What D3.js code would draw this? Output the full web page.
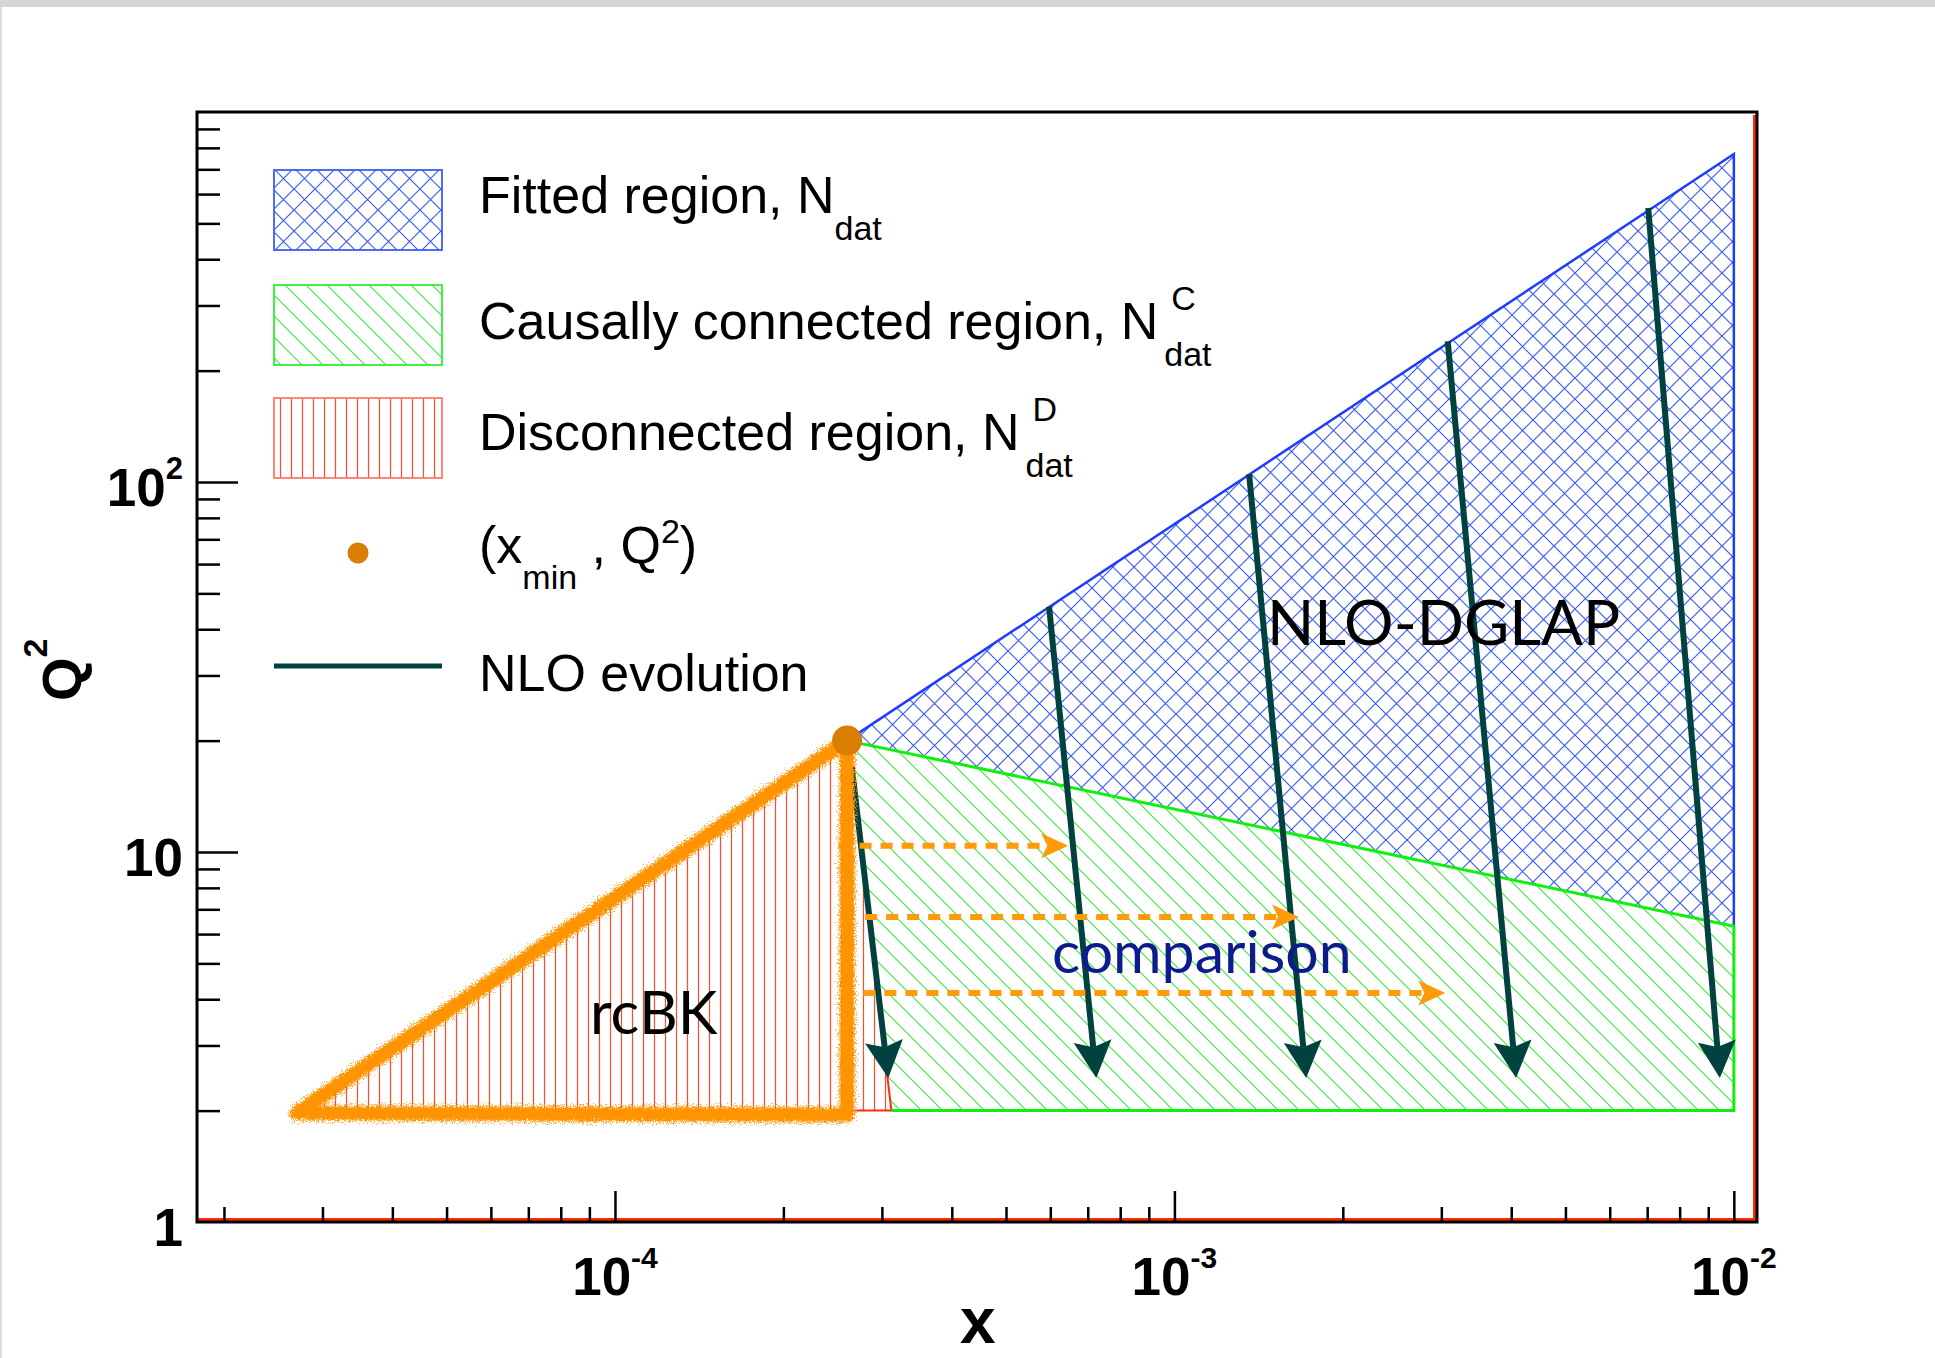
<!DOCTYPE html>
<html>
<head>
<meta charset="utf-8">
<script src="https://cdn.jsdelivr.net/npm/d3@7"></script>
<style>
    body { margin: 0; background: #fff; }
</style>
</head>
<body>
<div id="wrapper"></div>
<script>
// regions in the (x, Q^2) plane
const xMinPoint = [2.6e-4, 20]
const fittedX = [2.6e-4, 1e-2, 1e-2]
const fittedQ2 = [20, 770, 6.3]
const causalX = [2.6e-4, 1e-2, 1e-2, 3.12e-4]
const causalQ2 = [20, 6.3, 2, 2]
const discX = [2.7e-5, 2.6e-4, 3.12e-4]
const discQ2 = [2, 20, 2]
const rcbkX = [2.7e-5, 2.6e-4, 2.6e-4, 2.7e-5]
const rcbkQ2 = [1.97, 20, 1.95, 1.97]

// NLO evolution arrows
const nloStartX = [2.65e-4, 5.97e-4, 1.36e-3, 3.08e-3, 7.03e-3]
const nloStartQ2 = [17, 46, 105, 240, 550]
const nloEndX = [3.08e-4, 7.25e-4, 1.72e-3, 4.08e-3, 9.44e-3]
const nloEndQ2 = [2.45, 2.45, 2.45, 2.45, 2.45]

// dashed comparison arrows
const cmpStartX = [2.51e-4, 2.8e-4, 2.78e-4]
const cmpEndX = [6.46e-4, 1.67e-3, 3.05e-3]
const cmpQ2 = [10.4, 6.67, 4.16]

// axis labels
const xMajor = [1e-4, 1e-3, 1e-2]
const xMajorExp = ["-4", "-3", "-2"]
const yMajor = [1, 10, 100]
const yMajorBase = ["1", "10", "10"]
const yMajorExp = ["", "", "2"]

// legend
const legendMain = ["Fitted region, N", "Causally connected region, N", "Disconnected region, N"]
const legendSub = ["dat", "dat", "dat"]
const legendSup = ["", "C", "D"]

const dims = { width: 1935, height: 1358, left: 197, right: 1757, top: 112, bottom: 1222 }

const svg = d3.select("#wrapper").append("svg")
    .attr("width", dims.width)
    .attr("height", dims.height)
    .style("display", "block")

svg.append("rect").attr("width", dims.width).attr("height", dims.height).attr("fill", "#fff")
svg.append("rect").attr("width", dims.width).attr("height", 7).attr("fill", "#d5d5d5")
svg.append("rect").attr("y", 7).attr("width", 2).attr("height", dims.height).attr("fill", "#dcdcdc")

const x = d3.scaleLog().domain([1.79e-5, 0.011]).range([dims.left, dims.right])
const y = d3.scaleLog().domain([1, 1000]).range([dims.bottom, dims.top])

const defs = svg.append("defs")

const pBlue = defs.append("pattern").attr("id", "hBlue")
    .attr("patternUnits", "userSpaceOnUse").attr("width", 21).attr("height", 21)
pBlue.append("path").attr("d", "M-1,-1L22,22M22,-1L-1,22")
    .attr("stroke", "#3a5cff").attr("stroke-width", 1.2).attr("fill", "none")

const pGreen = defs.append("pattern").attr("id", "hGreen")
    .attr("patternUnits", "userSpaceOnUse").attr("width", 21).attr("height", 21)
pGreen.append("path").attr("d", "M-1,-1L22,22M-6,15L6,27M15,-6L27,6")
    .attr("stroke", "#44e444").attr("stroke-width", 1.2).attr("fill", "none")

const pRed = defs.append("pattern").attr("id", "hRed")
    .attr("patternUnits", "userSpaceOnUse").attr("width", 11).attr("height", 10)
pRed.append("path").attr("d", "M5.5,0L5.5,10")
    .attr("stroke", "#ff4a2a").attr("stroke-width", 1.2)

function roughFilter(id, freq, scale, seed) {
    const f = defs.append("filter").attr("id", id)
        .attr("x", "-10%").attr("y", "-10%").attr("width", "120%").attr("height", "120%")
    f.append("feTurbulence").attr("type", "fractalNoise").attr("baseFrequency", freq)
        .attr("numOctaves", 2).attr("seed", seed).attr("result", "noise")
    f.append("feDisplacementMap").attr("in", "SourceGraphic").attr("in2", "noise")
        .attr("scale", scale).attr("xChannelSelector", "R").attr("yChannelSelector", "G")
}
roughFilter("rough", 0.45, 9, 4)
roughFilter("rough2", 0.9, 16, 7)

const line = d3.line().x(d => x(d[0])).y(d => y(d[1]))
const pts = (xs, qs) => xs.map((v, i) => [v, qs[i]])

const plot = svg.append("g")

// hatched regions
plot.append("path").attr("d", line(pts(fittedX, fittedQ2)) + "Z").attr("fill", "url(#hBlue)")
plot.append("path").attr("d", line(pts(causalX, causalQ2)) + "Z").attr("fill", "url(#hGreen)")
plot.append("path").attr("d", line(pts(discX, discQ2)) + "Z").attr("fill", "url(#hRed)")

// outlines
plot.append("path").attr("d", line(pts(fittedX, fittedQ2)))
    .attr("fill", "none").attr("stroke", "#1f3cff").attr("stroke-width", 2.5)
plot.append("path").attr("d", line(pts(discX.slice(1), discQ2.slice(1)).concat([[xMinPoint[0], 2]])))
    .attr("fill", "none").attr("stroke", "#ff2a10").attr("stroke-width", 2)
plot.append("path").attr("d", line(pts(causalX, causalQ2)))
    .attr("fill", "none").attr("stroke", "#10f010").attr("stroke-width", 3)

function arrow(g, x0, y0, x1, y1, len, half, notch, color, width, dash) {
    const dx = x1 - x0, dy = y1 - y0
    const L = Math.hypot(dx, dy)
    const ux = dx / L, uy = dy / L
    const bx = x1 - ux * (len - notch), by = y1 - uy * (len - notch)
    g.append("line")
        .attr("x1", x0).attr("y1", y0).attr("x2", bx).attr("y2", by)
        .attr("stroke", color).attr("stroke-width", width)
        .attr("stroke-dasharray", dash)
    const cx = x1 - ux * len, cy = y1 - uy * len
    const px = -uy, py = ux
    g.append("path")
        .attr("d", `M${x1},${y1}L${cx + px * half},${cy + py * half}L${bx},${by}L${cx - px * half},${cy - py * half}Z`)
        .attr("fill", color)
}

// NLO evolution arrows
const nloG = plot.append("g")
nloStartX.forEach((v, i) => {
    arrow(nloG, x(v), y(nloStartQ2[i]), x(nloEndX[i]), y(nloEndQ2[i]), 37, 19, 6, "#02423e", 6, null)
})

// comparison arrows
const cmpG = plot.append("g")
cmpStartX.forEach((v, i) => {
    arrow(cmpG, x(v), y(cmpQ2[i]), x(cmpEndX[i]), y(cmpQ2[i]), 27, 12.5, 6, "#ff9a08", 6, "12,9")
})

// rcBK chalk triangle
const rcbkPath = line(pts(rcbkX, rcbkQ2)) + "Z"
plot.append("path").attr("d", rcbkPath)
    .attr("fill", "none").attr("stroke", "#ff9a10").attr("stroke-width", 16).attr("opacity", 0.75)
    .attr("stroke-linejoin", "round").attr("filter", "url(#rough2)")
plot.append("path").attr("d", rcbkPath)
    .attr("fill", "none").attr("stroke", "#ff9300").attr("stroke-width", 12)
    .attr("stroke-linejoin", "round").attr("filter", "url(#rough)")

plot.append("circle").attr("cx", x(xMinPoint[0])).attr("cy", y(xMinPoint[1]))
    .attr("r", 15).attr("fill", "#d97e00")

// region labels
const human = "Lato, 'Open Sans', sans-serif"
plot.append("text").attr("x", 1267).attr("y", 645).style("font", `62px ${human}`).text("NLO-DGLAP")
plot.append("text").attr("x", 1052).attr("y", 973).style("font", `59px ${human}`)
    .attr("fill", "#0c1c8c").text("comparison")
plot.append("text").attr("x", 590).attr("y", 1034).style("font", `60px ${human}`).text("rcBK")

// frame
svg.append("line").attr("x1", dims.left).attr("x2", dims.right - 3)
    .attr("y1", dims.bottom - 2.5).attr("y2", dims.bottom - 2.5)
    .attr("stroke", "#ff2a00").attr("stroke-width", 3)
svg.append("line").attr("x1", dims.right - 2.5).attr("x2", dims.right - 2.5)
    .attr("y1", dims.top + 3).attr("y2", dims.bottom)
    .attr("stroke", "#ff2a00").attr("stroke-width", 3)
svg.append("rect").attr("x", dims.left).attr("y", dims.top)
    .attr("width", dims.right - dims.left).attr("height", dims.bottom - dims.top)
    .attr("fill", "none").attr("stroke", "#000").attr("stroke-width", 3)

// ticks
const xMinor = []
const yMinor = []
;[-5, -4, -3].forEach(k => d3.range(2, 10).forEach(m => {
    const v = m * Math.pow(10, k)
    if (v > x.domain()[0] && v < x.domain()[1]) xMinor.push(v)
}))
;[0, 1, 2].forEach(k => d3.range(2, 10).forEach(m => yMinor.push(m * Math.pow(10, k))))

function tickGroup(axis, transform) {
    const g = svg.append("g").attr("transform", transform).call(axis)
    g.select(".domain").remove()
    g.selectAll("text").remove()
    g.selectAll("line").attr("stroke", "#000").attr("stroke-width", 2.5)
    return g
}
tickGroup(d3.axisBottom(x).tickValues(xMinor).tickSize(-15), `translate(0,${dims.bottom})`)
tickGroup(d3.axisBottom(x).tickValues(xMajor).tickSize(-31), `translate(0,${dims.bottom})`)
tickGroup(d3.axisLeft(y).tickValues(yMinor).tickSize(-23), `translate(${dims.left},0)`)
tickGroup(d3.axisLeft(y).tickValues(yMajor.slice(1)).tickSize(-41), `translate(${dims.left},0)`)

const axisFont = "'Liberation Sans Narrow', 'Liberation Sans', Arial, sans-serif"

const xl = svg.append("g").selectAll("text").data(xMajor).join("text")
    .attr("x", d => x(d)).attr("y", 1295).attr("text-anchor", "middle")
    .style("font", `bold 53px ${axisFont}`)
xl.append("tspan").text("10")
xl.append("tspan").attr("dy", -27).style("font-size", "30px").text((d, i) => xMajorExp[i])

const yl = svg.append("g").selectAll("text").data(yMajor).join("text")
    .attr("x", 183).attr("y", d => y(d) + 24).attr("text-anchor", "end")
    .style("font", `bold 53px ${axisFont}`)
yl.append("tspan").text((d, i) => yMajorBase[i])
yl.append("tspan").attr("dy", -27).style("font-size", "31px").text((d, i) => yMajorExp[i])

svg.append("text").attr("x", 960).attr("y", 1343)
    .style("font", `bold 64px ${axisFont}`).text("x")

const qt = svg.append("text").attr("transform", "translate(81,701) rotate(-90)")
    .style("font", `bold 56px ${axisFont}`)
qt.append("tspan").text("Q")
qt.append("tspan").attr("dy", -34).style("font-size", "34px").text("2")

// legend
const legFont = "'Liberation Sans', Arial, sans-serif"
const leg = svg.append("g")
const boxY = [170, 285, 398]
const boxFill = ["url(#hBlue)", "url(#hGreen)", "url(#hRed)"]
const boxStroke = ["#3a5cff", "#30ee30", "#ff7a66"]
const textY = [213, 339, 450]

legendMain.forEach((label, i) => {
    leg.append("rect").attr("x", 274).attr("y", boxY[i]).attr("width", 168).attr("height", 80)
        .attr("fill", boxFill[i]).attr("stroke", boxStroke[i]).attr("stroke-width", 1.8)
    const t = leg.append("text").attr("x", 479).attr("y", textY[i])
        .style("font", `52px ${legFont}`).text(label)
    const end = 479 + t.node().getComputedTextLength() + (i === 0 ? 0 : 6)
    leg.append("text").attr("x", end).attr("y", textY[i] + 27)
        .style("font", `34px ${legFont}`).text(legendSub[i])
    if (legendSup[i]) {
        leg.append("text").attr("x", end + 7).attr("y", textY[i] - 29)
            .style("font", `34px ${legFont}`).text(legendSup[i])
    }
})

leg.append("circle").attr("cx", 358).attr("cy", 553).attr("r", 10.5).attr("fill", "#d97e00")
const xm = leg.append("text").attr("x", 479).attr("y", 563).style("font", `52px ${legFont}`)
xm.append("tspan").text("(x")
xm.append("tspan").attr("dy", 26).style("font-size", "34px").text("min")
xm.append("tspan").attr("dy", -26).text(" , Q")
xm.append("tspan").attr("dy", -20).style("font-size", "34px").text("2")
xm.append("tspan").attr("dy", 20).text(")")

leg.append("line").attr("x1", 274).attr("x2", 442).attr("y1", 666).attr("y2", 666)
    .attr("stroke", "#02423e").attr("stroke-width", 5)
leg.append("text").attr("x", 479).attr("y", 691).style("font", `52px ${legFont}`).text("NLO evolution")
</script>
</body>
</html>
